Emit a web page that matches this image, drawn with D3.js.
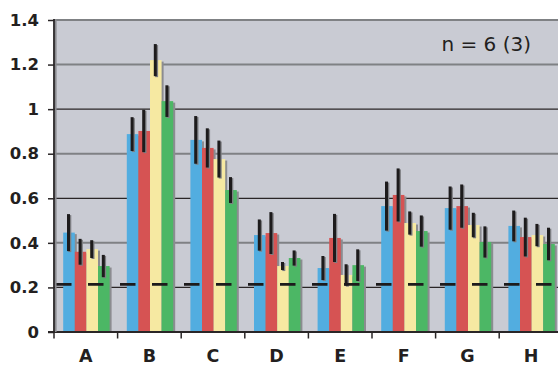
<!DOCTYPE html>
<html>
<head>
<meta charset="utf-8">
<script src="https://cdn.jsdelivr.net/npm/d3@7/dist/d3.min.js"></script>
<style>
  body { margin: 0; background: #fff; overflow: hidden; }
  svg { display: block; }
</style>
</head>
<body>
<script>
// values
var categories = ["A", "B", "C", "D", "E", "F", "G", "H"];
var seriesNames = ["blue", "red", "yellow", "green"];
var seriesColors = ["#52ade0", "#d65353", "#f6e9a2", "#4cb765"];

var blueVals   = [0.446, 0.888, 0.862, 0.435, 0.287, 0.565, 0.556, 0.476];
var redVals    = [0.360, 0.902, 0.826, 0.444, 0.422, 0.615, 0.565, 0.426];
var yellowVals = [0.372, 1.220, 0.776, 0.296, 0.256, 0.489, 0.480, 0.435];
var greenVals  = [0.296, 1.036, 0.637, 0.332, 0.300, 0.453, 0.404, 0.395];

var blueErr   = [0.083, 0.076, 0.107, 0.070, 0.054, 0.110, 0.097, 0.069];
var redErr    = [0.058, 0.095, 0.088, 0.094, 0.108, 0.119, 0.097, 0.087];
var yellowErr = [0.040, 0.072, 0.083, 0.018, 0.048, 0.052, 0.055, 0.050];
var greenErr  = [0.050, 0.071, 0.058, 0.034, 0.071, 0.070, 0.070, 0.073];

var yTicks = [0, 0.2, 0.4, 0.6, 0.8, 1, 1.2, 1.4];
var refLevel = 0.214;
var note = "n = 6 (3)";

(() => {
    var W = 558, H = 366;
    var left = 54, top = 20, bottom = 332;
    var band = 63.6;

    var svg = d3.select("body").append("svg")
        .attr("width", W).attr("height", H);

    var x0 = d3.scaleBand().domain(categories)
        .range([left, left + band * categories.length]);
    var x1 = d3.scaleBand().domain(seriesNames).range([9.2, 55.6]);
    var y = d3.scaleLinear().domain([0, 1.4]).range([bottom, top]);

    var allVals = [blueVals, redVals, yellowVals, greenVals];
    var allErr = [blueErr, redErr, yellowErr, greenErr];

    var data = [];
    categories.forEach((c, i) => {
        seriesNames.forEach((s, j) => {
            data.push({ cat: c, s: s, color: seriesColors[j], v: allVals[j][i], e: allErr[j][i] });
        });
    });

    // plot background
    svg.append("rect")
        .attr("x", left).attr("y", y(1.4) - 1)
        .attr("width", x0.range()[1] - left).attr("height", bottom - y(1.4) + 1)
        .attr("fill", "#c9cbd3");

    // gridlines: alternate gray / dark like the original
    svg.append("g").selectAll("line").data(yTicks.slice(1)).enter().append("line")
        .attr("x1", left).attr("x2", x0.range()[1])
        .attr("y1", d => y(d)).attr("y2", d => y(d))
        .attr("stroke", (d, i) => i % 2 == 0 && d != 1.4 ? "#2a2627" : "#7f8184")
        .attr("stroke-width", (d, i) => i % 2 == 0 && d != 1.4 ? 1.3 : 2);

    // bar shadows
    svg.append("g").selectAll("rect").data(data).enter().append("rect")
        .attr("x", d => x0(d.cat) + x1(d.s) + 2)
        .attr("y", d => y(d.v) + 1.5)
        .attr("width", x1.bandwidth())
        .attr("height", d => bottom - y(d.v) - 1.5)
        .attr("fill", "#8b8c90");

    // bars
    svg.append("g").selectAll("rect").data(data).enter().append("rect")
        .attr("x", d => x0(d.cat) + x1(d.s))
        .attr("y", d => y(d.v))
        .attr("width", x1.bandwidth())
        .attr("height", d => bottom - y(d.v))
        .attr("fill", d => d.color);

    // error bars (shadow then bar)
    var ex = d => x0(d.cat) + x1(d.s) + x1.bandwidth() / 2 - 0.5;
    svg.append("g").selectAll("line").data(data).enter().append("line")
        .attr("x1", d => ex(d) + 1.3).attr("x2", d => ex(d) + 1.3)
        .attr("y1", d => y(d.v + d.e) + 1).attr("y2", d => y(d.v - d.e) + 1)
        .attr("stroke", "#7d7e82").attr("stroke-width", 3);
    svg.append("g").selectAll("line").data(data).enter().append("line")
        .attr("x1", ex).attr("x2", ex)
        .attr("y1", d => y(d.v + d.e)).attr("y2", d => y(d.v - d.e))
        .attr("stroke", "#1d1b1c").attr("stroke-width", 3);

    // dashed reference line
    svg.append("line")
        .attr("x1", left + 2).attr("x2", x0.range()[1])
        .attr("y1", y(refLevel)).attr("y2", y(refLevel))
        .attr("stroke", "#1d1b1c").attr("stroke-width", 2.8)
        .attr("stroke-dasharray", "15.5,16.5");

    // axes
    var yAxis = d3.axisLeft(y).tickValues(yTicks).tickSize(6).tickPadding(9)
        .tickFormat(d => String(+d.toFixed(1)));
    var gy = svg.append("g").attr("transform", "translate(" + left + ",0)").call(yAxis);
    gy.select(".domain").remove();
    gy.selectAll(".tick line").attr("stroke", "#2a2627").attr("stroke-width", 1.5);
    gy.selectAll("text")
        .attr("font-family", "DejaVu Sans").attr("font-weight", "bold")
        .attr("font-size", 16.5).attr("fill", "#231f20");

    var xAxis = d3.axisBottom(x0).tickSize(0).tickPadding(0);
    var gx = svg.append("g").attr("transform", "translate(0," + bottom + ")").call(xAxis);
    gx.select(".domain").remove();
    gx.selectAll("text")
        .attr("dy", 0).attr("y", 30)
        .attr("font-family", "DejaVu Sans").attr("font-weight", "bold")
        .attr("font-size", 17.5).attr("fill", "#231f20");

    // category boundary ticks
    svg.append("g").selectAll("line").data(categories).enter().append("line")
        .attr("x1", d => x0(d)).attr("x2", d => x0(d))
        .attr("y1", bottom).attr("y2", bottom + 6.5)
        .attr("stroke", "#2a2627").attr("stroke-width", 1.5);

    // axis lines
    svg.append("line")
        .attr("x1", left - 6).attr("x2", x0.range()[1])
        .attr("y1", bottom).attr("y2", bottom)
        .attr("stroke", "#2a2627").attr("stroke-width", 1.8);
    svg.append("line")
        .attr("x1", left + 1.8).attr("x2", left + 1.8)
        .attr("y1", y(1.4) - 1).attr("y2", bottom)
        .attr("stroke", "#8b8c90").attr("stroke-width", 1.6);
    svg.append("line")
        .attr("x1", left).attr("x2", left)
        .attr("y1", y(1.4) - 1).attr("y2", bottom + 1)
        .attr("stroke", "#2a2627").attr("stroke-width", 1.8);

    // annotation
    svg.append("text")
        .attr("x", 531).attr("y", 51)
        .attr("text-anchor", "end")
        .attr("font-family", "DejaVu Sans").attr("font-size", 20)
        .attr("fill", "#231f20")
        .text(note);
})();
</script>
</body>
</html>
